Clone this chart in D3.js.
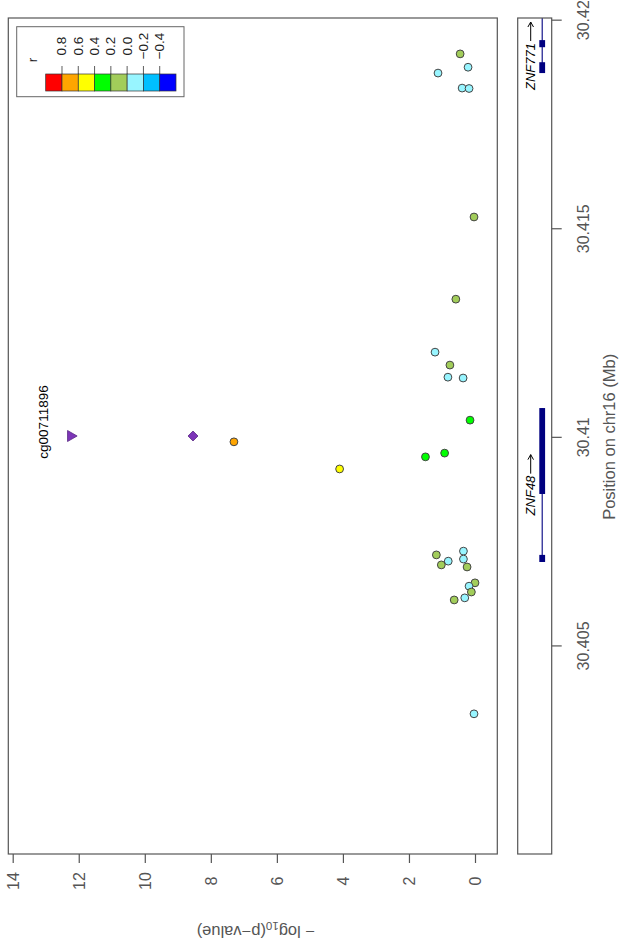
<!DOCTYPE html>
<html>
<head>
<meta charset="utf-8">
<script src="https://cdn.jsdelivr.net/npm/d3@7"></script>
<style>
  html, body { margin: 0; padding: 0; background: #fff; }
  svg { display: block; font-family: "Liberation Sans", Arial, Helvetica, sans-serif; }
</style>
</head>
<body>
<svg id="chart" width="619" height="941"></svg>
<script>
// ---------------- DATA ----------------
// CpG / SNP positions (Mb on chr16), -log10(p), and LD r
const snpPos = [30.41918, 30.41886, 30.41872, 30.41836, 30.41835, 30.41527, 30.41330,
  30.41203, 30.41172, 30.41143, 30.41141, 30.41040, 30.40988, 30.40961, 30.40952,
  30.40923, 30.40726, 30.40717, 30.40707, 30.40702, 30.40693, 30.40688, 30.40650,
  30.40642, 30.40628, 30.40614, 30.40609, 30.40336];
const snpLogP = [0.45, 0.21, 1.12, 0.39, 0.18, 0.03, 0.58,
  1.21, 0.76, 0.82, 0.36, 0.15, 7.30, 0.92, 1.50,
  4.10, 0.35, 1.17, 0.35, 0.81, 1.02, 0.24, 0.00,
  0.18, 0.11, 0.31, 0.63, 0.03];
const snpR = [0.1, -0.1, -0.1, -0.1, -0.1, 0.1, 0.1,
  -0.1, 0.1, -0.1, -0.1, 0.3, 0.7, 0.3, 0.3,
  0.5, -0.1, 0.1, -0.1, -0.1, 0.1, 0.1, 0.1,
  -0.1, 0.1, -0.1, 0.1, -0.1];

// lead SNP (diamond) and the CpG (triangle)
const leadPos = 30.41002, leadLogP = 8.54;
const cpgName = "cg00711896", cpgPos = 30.41002, cpgLogP = 12.2;

// legend
const legendColors = ["#FF0000", "#FFA500", "#FFFF00", "#00FF00", "#A2CD5A", "#98F5FF", "#00BFFF", "#0000FF"];
const legendLabels = ["0.8", "0.6", "0.4", "0.2", "0.0", "\u22120.2", "\u22120.4"];
const rThresholds = [-0.4, -0.2, 0, 0.2, 0.4, 0.6, 0.8];

// axes ticks
const logPTicks = [0, 2, 4, 6, 8, 10, 12, 14];
const posTicks = [30.405, 30.41, 30.415, 30.42];

// genes
const geneNames = ["ZNF48", "ZNF771"];
const geneStarts = [30.40700, 30.41872];
const geneEnds = [30.41069, 30.42150];
const exonStarts = [30.40700, 30.40863, 30.41872, 30.41934];
const exonEnds = [30.40717, 30.41069, 30.41898, 30.41951];

// ---------------- LAYOUT ----------------
const svg = d3.select("#chart");
const panel = { left: 8.3, right: 497.3, top: 18, bottom: 854 };
const genePanel = { left: 517.7, right: 551.7 };
const textGray = "#555";

const y = d3.scaleLinear().domain([30.4000, 30.42004]).range([panel.bottom, panel.top]);
const x = d3.scaleLinear().domain([0, 14]).range([475, 12.7]);
const color = d3.scaleThreshold().domain(rThresholds).range(legendColors.slice().reverse());

// ---------------- MAIN PANEL ----------------
svg.append("rect")
  .attr("x", panel.left).attr("y", panel.top)
  .attr("width", panel.right - panel.left).attr("height", panel.bottom - panel.top)
  .attr("fill", "none").attr("stroke", "#555").attr("stroke-width", 1.2);

// -log10 axis (bottom)
const xAxis = svg.append("g")
  .attr("transform", `translate(0,${panel.bottom})`)
  .call(d3.axisBottom(x).tickValues(logPTicks).tickSize(9).tickSizeOuter(0).tickFormat(d3.format("d")));
xAxis.select(".domain").remove();
xAxis.selectAll("line").attr("stroke", "#555").attr("stroke-width", 1.2);
xAxis.selectAll("text")
  .attr("x", 0).attr("y", 0).attr("dy", "0.35em")
  .attr("transform", "translate(0,27) rotate(-90)")
  .style("text-anchor", "middle")
  .attr("fill", textGray).style("font-size", "16px");

// y-axis title (upside down)
const yt = svg.append("text")
  .attr("transform", `translate(${(panel.left + panel.right) / 2 + 3},932) rotate(180)`)
  .attr("text-anchor", "middle").attr("dominant-baseline", "central")
  .attr("fill", textGray).style("font-size", "16.5px");
yt.append("tspan").text("\u2212 log");
yt.append("tspan").attr("baseline-shift", "sub").style("font-size", "11.5px").text("10");
yt.append("tspan").text("(p\u2212value)");

// points
const pts = snpPos.map((p, i) => ({ pos: p, lp: snpLogP[i], r: snpR[i] }));
svg.append("g").selectAll("circle").data(pts).join("circle")
  .attr("cx", d => x(d.lp)).attr("cy", d => y(d.pos)).attr("r", 3.9)
  .attr("fill", d => color(d.r)).attr("stroke", "#444").attr("stroke-width", 1);

// lead SNP diamond
const dsz = 5;
svg.append("path")
  .attr("transform", `translate(${x(leadLogP)},${y(leadPos)})`)
  .attr("d", `M0,${-dsz}L${dsz},0L0,${dsz}L${-dsz},0Z`)
  .attr("fill", "#7D35B8").attr("stroke", "#5a2a85").attr("stroke-width", 0.8);

// CpG triangle (pointing right)
svg.append("path")
  .attr("transform", `translate(${x(cpgLogP)},${y(cpgPos)})`)
  .attr("d", "M-4.6,-5.5L5,0L-4.6,5.5Z")
  .attr("fill", "#7D35B8").attr("stroke", "#5a2a85").attr("stroke-width", 0.8);

svg.append("text")
  .attr("transform", `translate(${x(cpgLogP) - 29},${y(cpgPos) - 14}) rotate(-90)`)
  .attr("text-anchor", "middle").attr("dominant-baseline", "central")
  .attr("fill", "#000").style("font-size", "13.5px").text(cpgName);

// ---------------- LEGEND ----------------
const lg = svg.append("g");
lg.append("rect").attr("x", 16.7).attr("y", 26.7).attr("width", 167.3).attr("height", 70)
  .attr("fill", "#fff").attr("stroke", "#666").attr("stroke-width", 1);
const lx = d3.scaleBand().domain(d3.range(legendColors.length)).range([45.7, 176]).padding(0);
lg.selectAll("rect.cell").data(legendColors).join("rect").attr("class", "cell")
  .attr("x", (d, i) => lx(i)).attr("y", 74).attr("width", lx.bandwidth()).attr("height", 17)
  .attr("fill", d => d).attr("stroke", "#333").attr("stroke-width", 0.7);
lg.selectAll("line.tk").data(legendLabels).join("line").attr("class", "tk")
  .attr("x1", (d, i) => lx(i + 1)).attr("x2", (d, i) => lx(i + 1))
  .attr("y1", 66).attr("y2", 74).attr("stroke", "#333").attr("stroke-width", 0.8);
lg.selectAll("text.lb").data(legendLabels).join("text").attr("class", "lb")
  .attr("transform", (d, i) => `translate(${lx(i + 1)},46) rotate(-90)`)
  .attr("text-anchor", "middle").attr("dominant-baseline", "central")
  .attr("fill", "#222").style("font-size", "13.5px").text(d => d);
lg.append("text").attr("transform", "translate(32,60) rotate(-90)")
  .attr("text-anchor", "middle").attr("dominant-baseline", "central")
  .attr("fill", "#222").style("font-size", "13.5px").text("r");

// ---------------- GENE PANEL ----------------
svg.append("defs").append("clipPath").attr("id", "gclip").append("rect")
  .attr("x", genePanel.left).attr("y", panel.top)
  .attr("width", genePanel.right - genePanel.left).attr("height", panel.bottom - panel.top);

const gp = svg.append("g");
const gx = 542.2;
const gg = gp.append("g").attr("clip-path", "url(#gclip)");
gg.selectAll("line.gene").data(geneNames).join("line").attr("class", "gene")
  .attr("x1", gx).attr("x2", gx)
  .attr("y1", (d, i) => y(geneStarts[i])).attr("y2", (d, i) => y(geneEnds[i]))
  .attr("stroke", "#000080").attr("stroke-width", 1.1);
gg.selectAll("rect.exon").data(exonStarts).join("rect").attr("class", "exon")
  .attr("x", gx - 2.9).attr("width", 5.8)
  .attr("y", (d, i) => y(exonEnds[i])).attr("height", (d, i) => y(exonStarts[i]) - y(exonEnds[i]))
  .attr("fill", "#000080");

// gene labels: italic name followed by a long arrow (drawn along the text direction)
const arrowLen = 19;
geneNames.forEach((name, i) => {
  const g = gp.append("g");
  const t = g.append("text")
    .attr("text-anchor", "start").attr("dominant-baseline", "central")
    .attr("fill", "#000").style("font-size", "13px").style("font-style", "italic")
    .text(name);
  const len = t.node().getComputedTextLength();
  const total = len + 2 + arrowLen;
  t.attr("x", -total / 2);
  const ax0 = -total / 2 + len + 2, ax1 = ax0 + arrowLen;
  g.append("path")
    .attr("d", `M${ax0},0.5L${ax1},0.5M${ax1 - 5},-2.3L${ax1},0.5L${ax1 - 5},3.3`)
    .attr("fill", "none").attr("stroke", "#000").attr("stroke-width", 1);
  let cy = (y(geneStarts[i]) + y(Math.min(geneEnds[i], y.domain()[1]))) / 2;
  if (cy - total / 2 < panel.top + 4) cy = panel.top + 4 + total / 2;
  g.attr("transform", `translate(${gx - 12},${cy}) rotate(-90)`);
});

gp.append("rect")
  .attr("x", genePanel.left).attr("y", panel.top)
  .attr("width", genePanel.right - genePanel.left).attr("height", panel.bottom - panel.top)
  .attr("fill", "none").attr("stroke", "#555").attr("stroke-width", 1.2);

// position axis (right of gene panel)
const yAxis = svg.append("g")
  .attr("transform", `translate(${genePanel.right},0)`)
  .call(d3.axisRight(y).tickValues(posTicks).tickSize(10).tickSizeOuter(0).tickFormat(d => String(+d.toFixed(3))));
yAxis.select(".domain").remove();
yAxis.selectAll("line").attr("stroke", "#555").attr("stroke-width", 1.2);
yAxis.selectAll("text")
  .attr("x", 0).attr("y", 0).attr("dy", "0.35em")
  .attr("transform", "translate(31.5,0) rotate(-90)")
  .style("text-anchor", "middle")
  .attr("fill", textGray).style("font-size", "16px");

svg.append("text")
  .attr("transform", `translate(609,${y(30.41)}) rotate(-90)`)
  .attr("text-anchor", "middle").attr("dominant-baseline", "central")
  .attr("fill", textGray).style("font-size", "16.5px").text("Position on chr16 (Mb)");
</script>
</body>
</html>
